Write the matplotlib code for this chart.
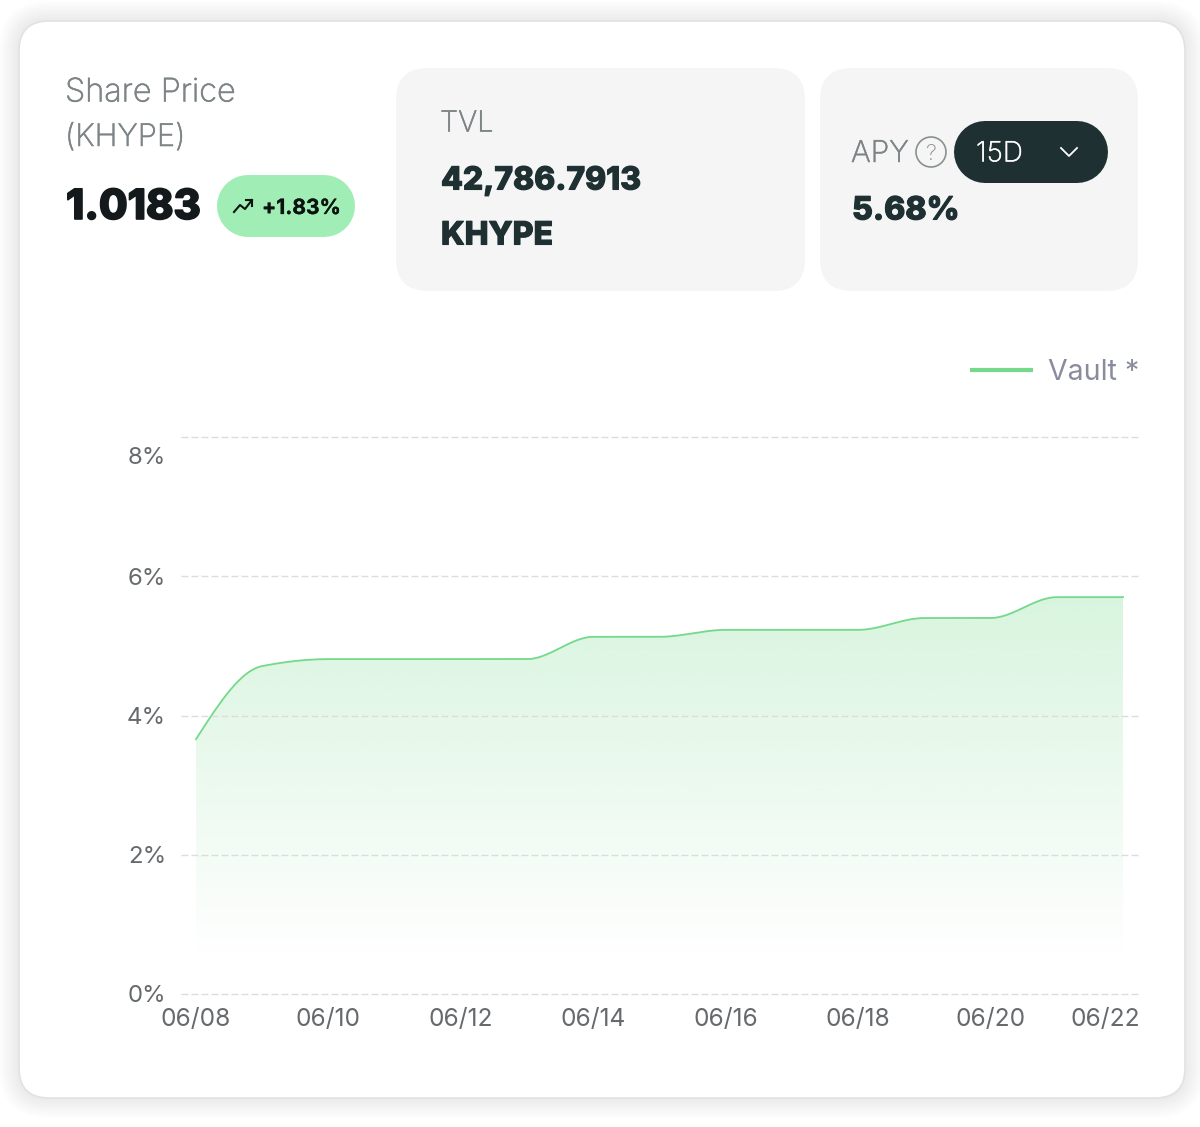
import numpy as np
from matplotlib import pyplot as plt
from matplotlib import patheffects as pe
from matplotlib.patches import FancyBboxPatch, Circle
from matplotlib.transforms import ScaledTranslation

plt.rcParams['font.family'] = ['Inter', 'DejaVu Sans']

# chart values, one per day
days = list(range(15))
apy = [3.66, 4.71, 4.81, 4.81, 4.81, 4.81, 5.13, 5.13, 5.23, 5.23, 5.23, 5.40, 5.40, 5.70, 5.70]
tick_days = [0, 2, 4, 6, 8, 10, 12, 14]
tick_dates = ['06/08', '06/10', '06/12', '06/14', '06/16', '06/18', '06/20', '06/22']
y_ticks = [0, 2, 4, 6, 8]
y_labels = ['0%', '2%', '4%', '6%', '8%']

GREEN = '#74d98a'
DARK = '#1f3033'
GREY = '#7d8486'
PANEL = '#f5f5f6'


def px(size):
    # font sizes below are read in pixels, figure is at 100 dpi
    return size * 0.72


def monotone(xs, ys, per_seg=30):
    # same curve as a d3 curveMonotoneX line
    xs = np.array(xs, dtype=float)
    ys = np.array(ys, dtype=float)
    h = np.diff(xs)
    s = np.diff(ys) / h
    m = np.zeros(len(xs))
    for i in range(1, len(xs) - 1):
        if s[i - 1] * s[i] > 0:
            m[i] = 2 * s[i - 1] * s[i] / (s[i - 1] + s[i])
    m[0] = 1.5 * s[0] - 0.5 * m[1]
    m[-1] = 1.5 * s[-1] - 0.5 * m[-2]
    out_x, out_y = [], []
    for i in range(len(h)):
        t = np.linspace(0, 1, per_seg, endpoint=False)
        a = (1 + 2 * t) * (1 - t) ** 2
        b = t * (1 - t) ** 2
        c = t ** 2 * (3 - 2 * t)
        d = t ** 2 * (t - 1)
        out_x.extend(xs[i] + t * h[i])
        out_y.extend(a * ys[i] + b * h[i] * m[i] + c * ys[i + 1] + d * h[i] * m[i + 1])
    out_x.append(xs[-1])
    out_y.append(ys[-1])
    return np.array(out_x), np.array(out_y)


fig = plt.figure(figsize=(12, 11.27), dpi=100, facecolor='white')

# page layer in pixel coordinates
ui = fig.add_axes([0, 0, 1, 1], zorder=0)
ui.set_xlim(0, 1200)
ui.set_ylim(1127, 0)
ui.axis('off')


def box(x0, y0, x1, y1, r, **kw):
    p = FancyBboxPatch((x0, y0), x1 - x0, y1 - y0, boxstyle='round,pad=0,rounding_size=%d' % r, **kw)
    ui.add_patch(p)


def pill(x0, x1, y, height, color):
    # thick line with round ends gives a true pill
    ui.plot([x0 + height / 2, x1 - height / 2], [y, y], color=color, lw=height * 0.72, solid_capstyle='round')


def label(x, y, s, size, color, weight='light', stroke=0.0, **kw):
    # Inter stops short of the weight in the picture, a thin stroke makes up for it
    t = ui.text(x, y, s, fontsize=px(size), color=color, va='center', fontweight=weight, **kw)
    if stroke:
        t.set_path_effects([pe.withStroke(linewidth=stroke, foreground=color)])
    return t


# soft card shadow
for grow in range(20, 0, -2):
    box(19 - grow, 21 - grow, 1185 + grow, 1098 + grow, 30 + grow, fc='#000000', ec='none', alpha=0.006)
box(19, 21, 1185, 1098, 30, fc='white', ec='#e2e2e2', lw=1.2)
box(396, 68, 805, 291, 32, fc=PANEL, ec='none')
box(820, 68, 1138, 291, 32, fc=PANEL, ec='none')
pill(217, 355, 206, 62, '#a0edb5')
pill(954, 1108, 152, 62, DARK)

label(65, 93, 'Share Price', 32.5, GREY, stroke=0.4)
label(65, 138, '(KHYPE)', 31, GREY, stroke=0.4)
label(66, 208, '1.0183', 41.5, '#14191c', 800, stroke=1.2)
label(262, 208, '+1.83%', 21, '#0c1410', 700, stroke=0.2)
ui.plot([234, 240, 245, 252], [212, 205, 209, 200], color='#0c1410', lw=1.5)
ui.plot([246, 252, 252], [200, 200, 206], color='#0c1410', lw=1.5)

label(440, 124, 'TVL', 29, GREY, stroke=0.4)
label(441, 181, '42,786.7913', 31.8, DARK, 800, stroke=0.8)
label(441, 236, 'KHYPE', 32, DARK, 800, stroke=0.8)

label(851, 154, 'APY', 30, GREY, stroke=0.4)
ui.add_patch(Circle((931, 152), 15, fc='none', ec='#8a9092', lw=1.2))
label(931, 154, '?', 22, '#8a9092', ha='center')
label(976, 154, '15D', 28, 'white', stroke=0.3)
ui.plot([1061, 1069, 1077], [148, 156, 148], color='white', lw=1.3)
label(852, 211, '5.68%', 32, DARK, 800, stroke=0.8)

# chart layer: plot area runs from x=181 to 1139, 8% at y=437 and 0% at y=994
ax = fig.add_axes([181 / 1200, 1 - 994 / 1127, 958 / 1200, 557 / 1127], zorder=1)
ax.patch.set_alpha(0)
day_px = (1123 - 196) / 14

cx, cy = monotone(days, apy)
ax.plot(cx, cy, color=GREEN, lw=1.3)

# gradient fill below the line
top = max(apy)
grad = np.zeros((256, 1, 4))
grad[:, :, 0] = 0x74 / 255
grad[:, :, 1] = 0xd9 / 255
grad[:, :, 2] = 0x8a / 255
grad[:, 0, 3] = np.linspace(0.28, 0, 256)
img = ax.imshow(grad, aspect='auto', extent=[days[0], days[-1], 0.5, top], origin='upper', zorder=1.5)
poly = ax.fill_between(cx, 0, cy, color='none')
img.set_clip_path(poly.get_paths()[0], transform=ax.transData)
ax.set_xlim(-15 / day_px, 14 + 16 / day_px)
ax.set_ylim(0, 8)

ax.set_xticks(tick_days, tick_dates)
ax.set_yticks(y_ticks, y_labels)
ax.tick_params(axis='both', length=0, labelsize=px(24.5), labelcolor='#666a6c')
ax.tick_params(axis='y', labelsize=px(24), pad=px(15))
ax.tick_params(axis='x', pad=px(14))
ax.set_axisbelow(False)
ax.grid(axis='y', color='#dcdcdc', lw=1, linestyle=(0, (5, 2.2)), clip_on=False)
ax.grid(axis='x', visible=False)
for s in ax.spines.values():
    s.set_visible(False)

# the end labels are pushed inward to stay in the plot
ax.get_yticklabels()[-1].set_transform(
    ax.get_yticklabels()[-1].get_transform() + ScaledTranslation(0, -19 / 100, fig.dpi_scale_trans))
ax.get_xticklabels()[-1].set_transform(
    ax.get_xticklabels()[-1].get_transform() + ScaledTranslation(-18 / 100, 0, fig.dpi_scale_trans))

legend_line, = ax.plot([], [], color=GREEN, lw=3, solid_capstyle='butt', label='Vault *')
ax.legend(handles=[legend_line], loc='center right', bbox_to_anchor=(1148 / 1200, 1 - 372 / 1127),
          bbox_transform=fig.transFigure, frameon=False, fontsize=px(28.5), labelcolor='#8a8c9e',
          handlelength=2.2, handletextpad=0.55, borderpad=0, borderaxespad=0.3)

fig.savefig('out.png', dpi=100)
